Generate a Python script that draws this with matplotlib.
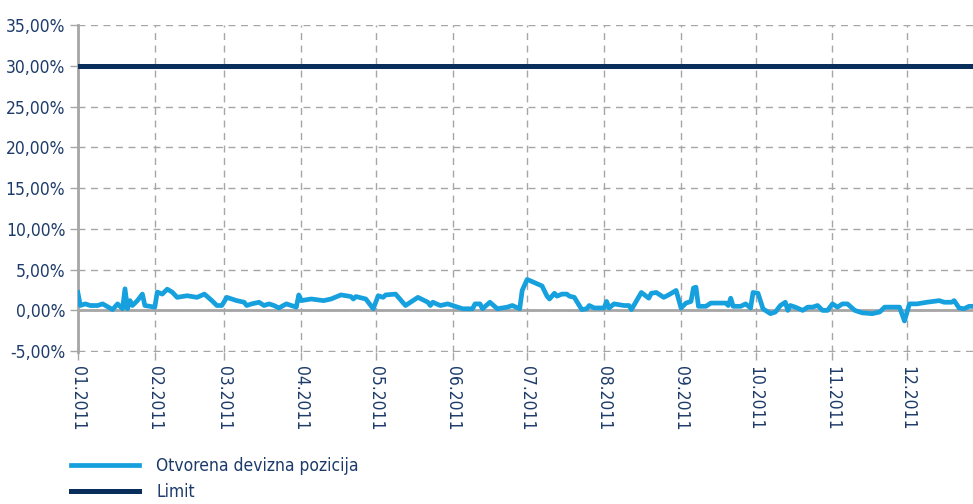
import matplotlib
matplotlib.use("Agg")
import matplotlib.pyplot as plt
import matplotlib.dates as mdates
import pandas as pd

plt.rcParams['font.family'] = ['DejaVu Sans']
plt.rcParams['font.stretch'] = 'condensed'

# days since 1 Jan 2011 and open FX position (%)
days = [0, 1, 3, 5, 8, 10, 14, 16, 18, 19, 20, 21, 22, 24, 26, 27, 31, 32, 34, 36,
        38, 40, 44, 48, 51, 54, 56, 58, 60, 64, 67, 68, 70, 73, 75, 77, 79, 81, 84, 86,
        88, 89, 90, 94, 99, 102, 106, 110, 111, 112, 116, 119, 121, 123, 124, 128, 132, 137, 141, 142,
        143, 146, 149, 151, 155, 159, 160, 162, 163, 166, 169, 173, 175, 178, 179, 181, 184, 187, 189, 190,
        192, 193, 195, 197, 198, 200, 203, 205, 206, 208, 212, 213, 214, 216, 220, 222, 223, 227, 230, 231,
        233, 236, 238, 241, 243, 245, 247, 248, 249, 250, 253, 255, 261, 262, 263, 264, 267, 269, 271, 272,
        274, 276, 279, 281, 283, 285, 286, 287, 289, 292, 294, 296, 298, 300, 302, 304, 306, 308, 310, 313,
        316, 320, 323, 325, 331, 333, 335, 338, 342, 347, 349, 352, 353, 355, 357, 359, 362]
position = [2.2, 0.6, 0.8, 0.6, 0.6, 0.8, 0.1, 0.8, 0.2, 2.65, 0.2, 1.2, 0.6, 1.2, 2.0, 0.6, 0.4, 2.25, 2.0, 2.6,
            2.25, 1.6, 1.8, 1.6, 2.0, 1.2, 0.6, 0.6, 1.6, 1.2, 1.0, 0.6, 0.8, 1.0, 0.6, 0.8, 0.6, 0.3, 0.8, 0.6,
            0.4, 1.9, 1.2, 1.4, 1.2, 1.4, 1.9, 1.7, 1.4, 1.7, 1.4, 0.2, 1.8, 1.6, 1.9, 2.0, 0.6, 1.6, 1.0, 0.6,
            1.0, 0.6, 0.8, 0.6, 0.2, 0.2, 0.8, 0.8, 0.2, 1.0, 0.2, 0.4, 0.6, 0.2, 2.45, 3.8, 3.4, 3.0, 1.75, 1.4,
            2.1, 1.75, 2.0, 2.0, 1.75, 1.6, 0.1, 0.2, 0.6, 0.3, 0.3, 1.1, 0.3, 0.8, 0.6, 0.6, 0.1, 2.2, 1.5, 2.1,
            2.2, 1.6, 1.9, 2.45, 0.3, 0.9, 1.1, 2.75, 2.85, 0.5, 0.5, 0.9, 0.9, 0.6, 1.5, 0.5, 0.5, 0.8, 0.3, 2.2,
            2.1, 0.2, -0.4, -0.2, 0.6, 1.0, 0.0, 0.6, 0.4, 0.0, 0.4, 0.4, 0.6, 0.0, 0.0, 0.8, 0.4, 0.8, 0.8, 0.0,
            -0.3, -0.4, -0.2, 0.4, 0.4, -1.3, 0.8, 0.8, 1.0, 1.2, 1.0, 1.0, 1.2, 0.3, 0.2, 0.5, 0.5]
limit = 30.0

start = pd.Timestamp('2011-01-01')
dates = start + pd.to_timedelta(days, unit='D')

blue = '#16a0de'
navy = '#0a2e5c'
text_col = '#1d3b6a'
grid_col = '#a6a6a6'

fig = plt.figure(figsize=(9.73, 5.04), dpi=100)
ax = fig.add_axes([0.080, 0.302, 0.920, 0.648])

ax.axhline(0, color=grid_col, lw=2, zorder=1)
l1, = ax.plot(dates, position, color=blue, lw=3.4, solid_joinstyle='round', zorder=3)
l2 = ax.axhline(limit, color=navy, lw=3.6, zorder=3)

ax.set_ylim(-5.08, 35)
ax.set_yticks(range(-5, 36, 5))
ax.set_yticklabels([f'{v},00%' for v in range(-5, 36, 5)])
ax.set_xlim(start, start + pd.Timedelta(days=360.6))
ax.xaxis.set_major_locator(mdates.MonthLocator())
ax.xaxis.set_major_formatter(mdates.DateFormatter('%m.%Y'))
plt.setp(ax.get_xticklabels(), rotation=270, ha='center', va='top')

ax.grid(True, color=grid_col, ls=(0, (5, 4)), lw=1)
for s in ['top', 'right', 'bottom']:
    ax.spines[s].set_visible(False)
ax.spines['left'].set_color(grid_col)
ax.spines['left'].set_linewidth(2)
ax.tick_params(axis='both', colors=grid_col, labelcolor=text_col, labelsize=12.5, length=6, width=1)
ax.tick_params(axis='x', pad=4)
ax.tick_params(axis='y', pad=3)

fig.legend([l1, l2], ['Otvorena devizna pozicija', 'Limit'], loc='upper left',
           bbox_to_anchor=(0.057, 0.125), frameon=False, fontsize=12.5, labelcolor=text_col,
           handlelength=3.9, handletextpad=1.0, labelspacing=0.5)

fig.savefig('out.png', dpi=100)
